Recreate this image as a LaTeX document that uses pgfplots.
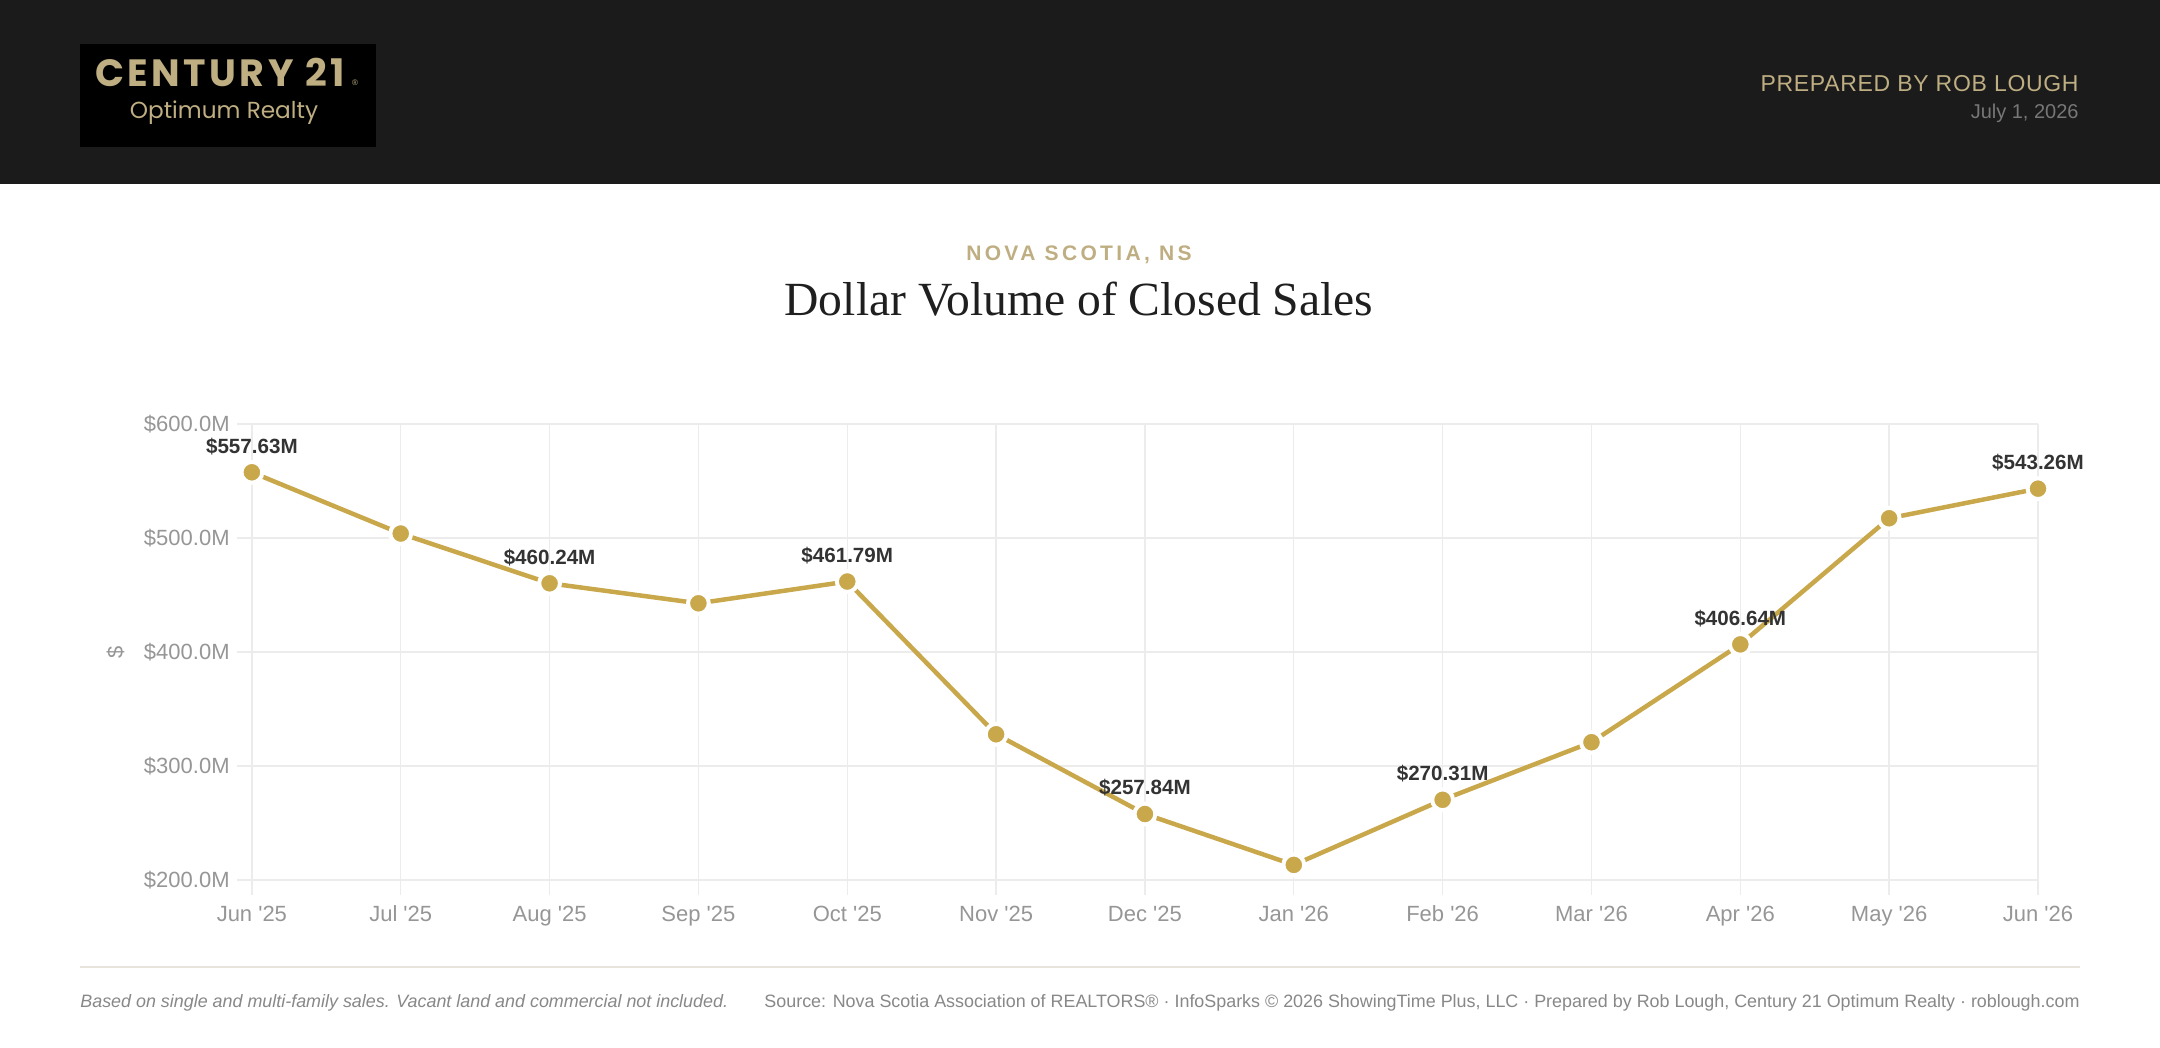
\documentclass[border=0pt]{standalone}
\usepackage{fontspec}
\usepackage{pgfplots}
\pgfplotsset{compat=1.18}
\setmainfont{Liberation Sans}
\newfontfamily\titlefont{Liberation Serif}
\newfontfamily\logofont[LetterSpace=9]{Poppins}
\newfontfamily\logosub{Poppins}
\newfontfamily\spacedfont[LetterSpace=16]{Liberation Sans}
\newfontfamily\prepfont[LetterSpace=3]{Liberation Sans}
\definecolor{headerbg}{RGB}{27,27,27}
\definecolor{gold}{RGB}{201,168,76}
\definecolor{tan}{RGB}{190,174,130}
\definecolor{gridgray}{RGB}{236,236,236}
\definecolor{ticklab}{RGB}{150,150,150}
\definecolor{labdark}{RGB}{51,51,51}
\definecolor{footgray}{RGB}{136,136,136}
\definecolor{footrule}{RGB}{232,228,220}
\definecolor{dategray}{RGB}{119,119,119}
\begin{document}
\begin{tikzpicture}
\path[use as bounding box] (0,0) rectangle (1080pt,524pt);
\fill[white] (0,0) rectangle (1080pt,524pt);
% header
\fill[headerbg] (0,432pt) rectangle (1080pt,524pt);
\fill[black] (40pt,450.5pt) rectangle (188pt,502pt);
\node[text=tan, font=\logofont\fontsize{19pt}{19pt}\selectfont\bfseries, inner sep=0pt] at (110pt,488pt) {CENTURY 21};
\node[text=tan, font=\fontsize{4pt}{4pt}\selectfont, inner sep=0pt] at (177.5pt,482.5pt) {®};
\node[text=tan, font=\logosub\fontsize{11.6pt}{11.6pt}\selectfont, inner sep=0pt] at (112pt,467.5pt) {Optimum Realty};
\node[text=tan, font=\prepfont\fontsize{11.5pt}{11.5pt}\selectfont, inner sep=0pt, anchor=east] at (1039.5pt,482pt) {PREPARED BY ROB LOUGH};
\node[text=dategray, font=\fontsize{10pt}{10pt}\selectfont, inner sep=0pt, anchor=east] at (1039.5pt,467.5pt) {July 1, 2026};
% titles
\node[text=tan, font=\spacedfont\fontsize{10.5pt}{10.5pt}\selectfont\bfseries, inner sep=0pt] at (539.5pt,396.6pt) {NOVA SCOTIA, NS};
\node[text=black!88, font=\titlefont\fontsize{23.8pt}{23.8pt}\selectfont, inner sep=0pt] at (539.5pt,374.5pt) {Dollar Volume of Closed Sales};
% footer
\draw[footrule, line width=1pt] (40pt,40.5pt) -- (1040pt,40.5pt);
\node[text=footgray, font=\fontsize{8.95pt}{8.95pt}\selectfont\itshape, inner sep=0pt, anchor=west] at (40pt,22.6pt) {Based on single and multi-family sales. Vacant land and commercial not included.};
\node[text=footgray, font=\fontsize{8.95pt}{8.95pt}\selectfont, inner sep=0pt, anchor=east] at (1040pt,22.6pt) {Source: Nova Scotia Association of REALTORS® · InfoSparks © 2026 ShowingTime Plus, LLC · Prepared by Rob Lough, Century 21 Optimum Realty · roblough.com};
\begin{axis}[
  at={(118.5pt,76.5pt)}, anchor=south west,
  scale only axis, width=900.5pt, height=235.5pt,
  xmin=-0.1, xmax=12, ymin=186.8, ymax=600,
  xtick={0,1,2,3,4,5,6,7,8,9,10,11,12},
  xticklabels={Jun \textquotesingle25, Jul \textquotesingle25, Aug \textquotesingle25, Sep \textquotesingle25, Oct \textquotesingle25, Nov \textquotesingle25, Dec \textquotesingle25, Jan \textquotesingle26, Feb \textquotesingle26, Mar \textquotesingle26, Apr \textquotesingle26, May \textquotesingle26, Jun \textquotesingle26},
  ytick={200,300,400,500,600},
  yticklabels={\$200.0M,\$300.0M,\$400.0M,\$500.0M,\$600.0M},
  grid=major, major grid style={draw=gridgray, line width=0.7pt},
  axis line style={draw=none}, tick style={draw=none},
  tick label style={font=\fontsize{11pt}{11pt}\selectfont, text=ticklab},
  yticklabel style={inner sep=0pt, xshift=-3.5pt},
  xticklabel style={inner sep=0pt, anchor=base, yshift=-13.5pt},
  ylabel={\$}, ylabel style={at={(axis description cs:-0.0674,0.516)}, anchor=center, font=\fontsize{11pt}{11pt}\selectfont, text=ticklab},
  clip=false,
]
\addplot[gold, line width=2.25pt, mark=*, mark size=5.2pt, mark options={fill=gold, draw=white, line width=2pt}] coordinates {
(0,557.63) (1,503.9) (2,460.24) (3,442.7) (4,461.79) (5,327.8) (6,257.84) (7,213.2) (8,270.31) (9,320.8) (10,406.64) (11,517.3) (12,543.26)
};
\addplot[draw=none, point meta=explicit symbolic, nodes near coords, nodes near coords style={font=\fontsize{10.3pt}{10.3pt}\selectfont\bfseries, text=labdark, anchor=center, yshift=13pt, inner sep=0pt}] coordinates {
(0,557.63) [\$557.63M] (2,460.24) [\$460.24M] (4,461.79) [\$461.79M] (6,257.84) [\$257.84M] (8,270.31) [\$270.31M] (10,406.64) [\$406.64M] (12,543.26) [\$543.26M]
};
\end{axis}
\end{tikzpicture}
\end{document}
